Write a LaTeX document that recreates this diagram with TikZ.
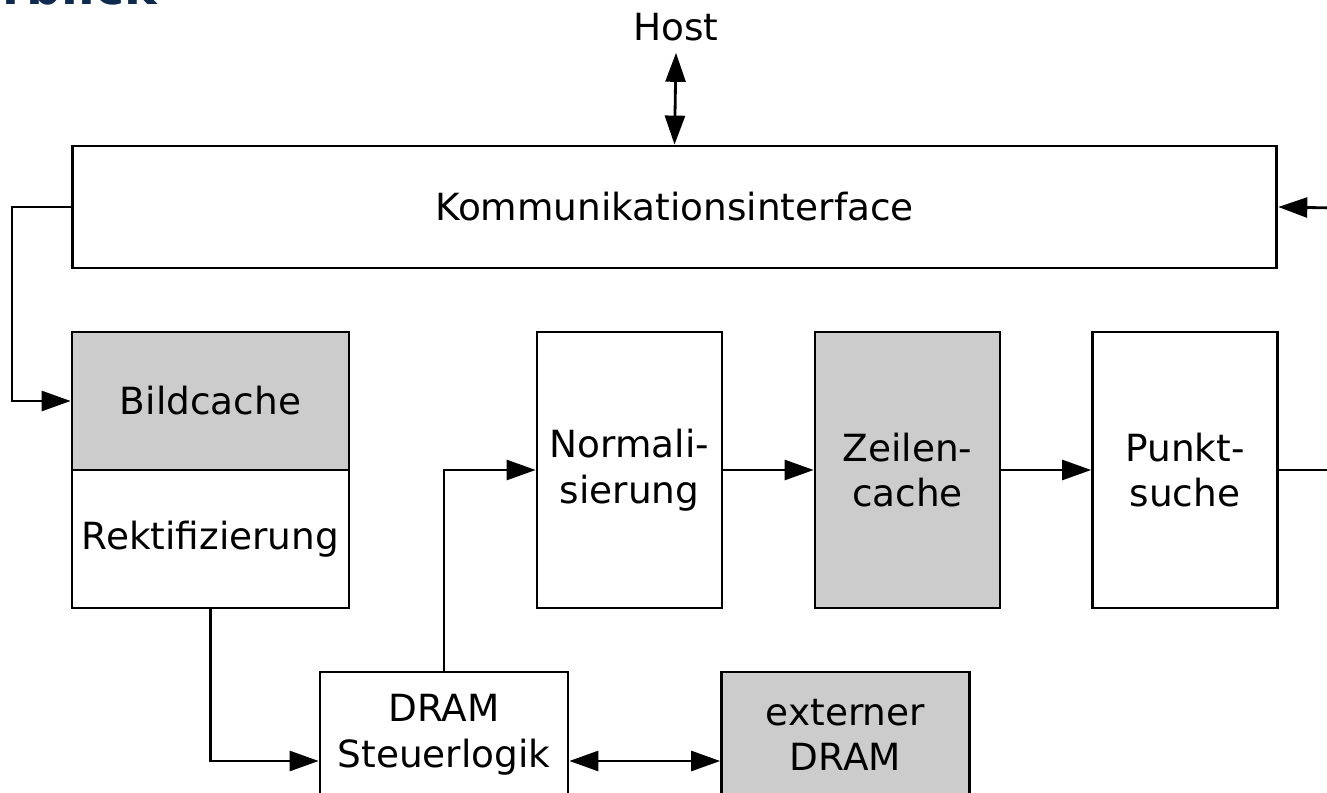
\documentclass[tikz,border=0pt]{standalone}
\usepackage{fontspec}
\setmainfont{DejaVu Sans}
\usetikzlibrary{arrows.meta,positioning}
\definecolor{kasten}{HTML}{CCCCCC}
\definecolor{titel}{HTML}{0E2A4E}

\begin{document}
\begin{tikzpicture}[x=0.02cm, y=-0.02cm, line width=1.6pt,
        block/.style={draw, rectangle, align=center, inner sep=0pt,
            font=\fontsize{21.3}{26}\selectfont},
        grau/.style={block, fill=kasten},
        pfeil/.style={-{Triangle[length=0.58cm,width=0.4cm]}},
        doppel/.style={{Triangle[length=0.58cm,width=0.4cm]}-{Triangle[length=0.58cm,width=0.4cm]}}]

    \useasboundingbox (0,0) rectangle (1327,793);
    \clip (0,0) rectangle (1327,793);

    % Titel (oben abgeschnitten)
    \node [anchor=base east, inner sep=0pt, text=titel,
        font=\bfseries\fontsize{28}{30}\selectfont] (titel) at (159,5) {Überblick};

    \node [inner sep=6pt, font=\fontsize{21.3}{26}\selectfont] (host) at (676,27) {Host};
    \node [block, minimum width=24.1cm, minimum height=2.44cm] (komm) at (674.5,207)
        {Kommunikationsinterface};

    \node [grau, minimum width=5.54cm, minimum height=2.76cm] (bild) at (210.5,401) {Bildcache};
    \node [block, minimum width=5.54cm, minimum height=2.76cm] (rekt) at (210.5,539) {Rektifizierung};

    \node [block, minimum width=3.7cm, minimum height=5.52cm] (norm) at (629.5,470) {Normali-\\sierung};
    \node [grau, minimum width=3.7cm, minimum height=5.52cm] (zeile) at (907.5,470) {Zeilen-\\cache};
    \node [block, minimum width=3.7cm, minimum height=5.52cm] (punkt) at (1185,470) {Punkt-\\suche};

    \node [block, minimum width=4.96cm, minimum height=2.52cm] (dram) at (444,735) {DRAM\\Steuerlogik};
    \node [grau, minimum width=4.96cm, minimum height=2.52cm] (ext) at (845.5,735) {externer\\DRAM};

    \coordinate (links) at (12,300);
    \coordinate (rechtsA) at (1335,208);
    \coordinate (rechtsB) at (1335,470);

    % Verbindungen
    \draw [doppel] (host.south) -- (komm.north);
    \draw [pfeil] (komm.west) -| (links) |- (bild.west);
    \draw [pfeil] (rechtsA) -- (komm.east);
    \draw [pfeil] (rekt.south) |- ([yshift=-0.52cm]dram.west);
    \draw [doppel] ([yshift=-0.52cm]dram.east) -- ([yshift=-0.52cm]ext.west);
    \draw [pfeil] (dram.north) |- (norm.west);
    \draw [pfeil] (norm) -- (zeile);
    \draw [pfeil] (zeile) -- (punkt);
    \draw (punkt.east) -- (rechtsB);
\end{tikzpicture}
\end{document}
